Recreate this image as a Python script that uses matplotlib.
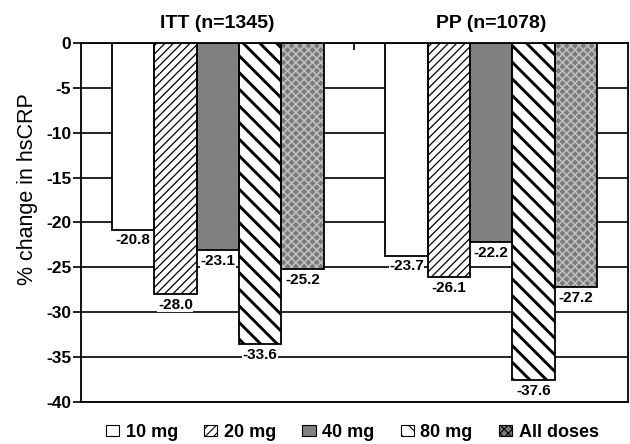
import numpy as np
import matplotlib.pyplot as plt
from matplotlib.patches import Patch

plt.rcParams['font.family'] = ['Liberation Sans', 'DejaVu Sans']
plt.rcParams['axes.unicode_minus'] = False

groups = ['ITT (n=1345)', 'PP (n=1078)']
doses = ['10 mg', '20 mg', '40 mg', '80 mg', 'All doses']
itt = [-20.8, -28.0, -23.1, -33.6, -25.2]
pp = [-23.7, -26.1, -22.2, -37.6, -27.2]
values = np.array([itt, pp])

faces = ['white', 'white', '#808080', 'white', '#7a7a7a']
hatches = [None, '////', None, '\\\\', 'xxxx']
hatch_cols = ['black', 'black', 'black', 'black', '#bdbdbd']
hatch_lw = [1.0, 0.9, 1.0, 2.1, 1.2]

fig = plt.figure(figsize=(6.3, 4.44), dpi=100)
ax = fig.add_axes([0.1286, 0.095, 0.868, 0.808])

x = np.arange(len(groups))
w = 0.155
for i, d in enumerate(doses):
    pos = x + (i - 2) * w
    # hatch layer first, black outline on top
    with plt.rc_context({'hatch.linewidth': hatch_lw[i]}):
        bars = ax.bar(pos, values[:, i], w, color=faces[i], hatch=hatches[i],
                      edgecolor=hatch_cols[i], linewidth=0, zorder=2)
    for b in bars:
        if hasattr(b, 'set_hatch_linewidth'):
            b.set_hatch_linewidth(hatch_lw[i])
    ax.bar(pos, values[:, i], w, color='none', edgecolor='black',
           linewidth=1.3, zorder=3)
    for p, v in zip(pos, values[:, i]):
        ax.text(p, v - 0.4, f'{v:.1f}', ha='center', va='top',
                fontsize=11, fontweight='bold', zorder=4,
                bbox=dict(facecolor='white', edgecolor='none', pad=0.3))

ax.set_xlim(-0.5, 1.5)
ax.set_ylim(-40, 0)
ax.set_yticks(np.arange(-40, 1, 5))
ax.yaxis.grid(True, color='black', linewidth=1.2)
ax.set_axisbelow(True)
ax.set_xticks([0.5])
ax.set_xticklabels([])
ax.xaxis.set_ticks_position('top')
ax.tick_params(axis='x', top=True, length=5, width=1.2, direction='in')
ax.tick_params(axis='y', direction='out', length=6, width=1.2, pad=1,
               labelsize=12.5)
for lab in ax.get_yticklabels():
    lab.set_fontweight('bold')
ax.set_ylabel('% change in hsCRP', fontsize=15.5)
ax.yaxis.set_label_coords(-0.078, 0.593)
for s in ax.spines.values():
    s.set_linewidth(1.3)

for g, gx in zip(groups, x):
    ax.text(gx, 1.2, g, ha='center', va='bottom', fontsize=14,
            fontweight='bold')

# legend proxies
handles = []
for i, d in enumerate(doses):
    handles.append(Patch(facecolor=faces[i], hatch=hatches[i],
                         edgecolor='black', linewidth=0.8, label=d))
with plt.rc_context({'hatch.linewidth': 0.8}):
    fig.legend(handles=handles, loc='center', ncol=5, frameon=False,
               bbox_to_anchor=(0.559, 0.027), handlelength=0.75,
               handleheight=0.55, handletextpad=0.35, columnspacing=1.45,
               prop={'size': 13, 'weight': 'bold'})

fig.savefig('out.png', dpi=100)
